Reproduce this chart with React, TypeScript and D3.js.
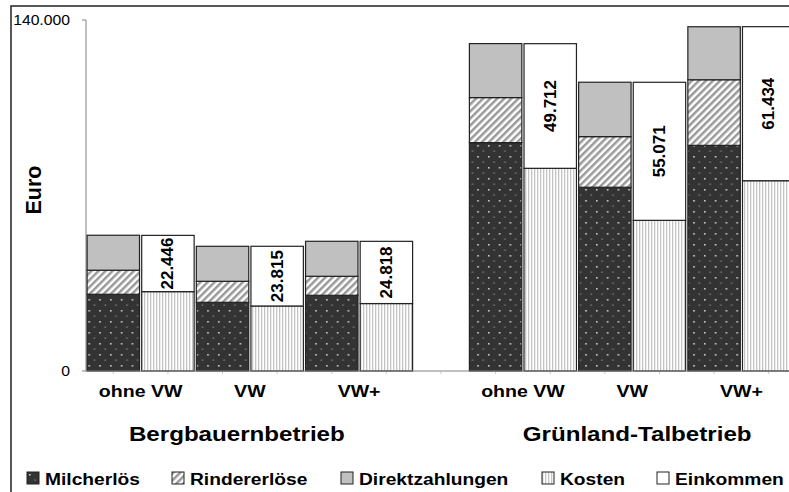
import React from "react";
import * as d3 from "d3";

// values (Euro)
const farms = ["Bergbauernbetrieb", "Grünland-Talbetrieb"];
const categories = ["ohne VW", "VW", "VW+"];
const milcherloes = [30600, 27400, 30200, 91100, 73300, 90000];
const rindererloese = [9600, 8380, 7580, 17950, 20180, 26170];
const direktzahlungen = [13950, 13960, 13960, 21540, 21700, 21140];
const kosten = [31650, 25930, 26900, 80840, 60090, 75900];
const einkommen = [22446, 23815, 24818, 49712, 55071, 61434];
const yTicks = [0, 140000];
const legendItems = ["Milcherlös", "Rindererlöse", "Direktzahlungen", "Kosten", "Einkommen"];

const W = 789;
const H = 492;
const FONT = "'Liberation Sans', Arial, Helvetica, sans-serif";
const SX = 1.15; // the original text is a bit wider than Arial

const fmt = (v: number) => d3.format(",.0f")(v).replace(/,/g, ".");

const App = () => {
  const y = d3.scaleLinear().domain([0, 140000]).range([371, 20]);

  // 13 slots: 6 bars, one empty, 6 bars
  const slots = d3.range(13).map(String);
  const x = d3.scaleBand().domain(slots).range([86, 796]).paddingInner(0.04).paddingOuter(0.02);
  const bw = x.bandwidth();

  const revSlot = (i: number) => String(i < 3 ? i * 2 : i * 2 + 1);
  const costSlot = (i: number) => String(i < 3 ? i * 2 + 1 : i * 2 + 2);

  const fills = ["url(#milch)", "url(#hatch)", "#c0c0c0", "url(#kosten)", "#ffffff"];
  const legendX = [27, 172, 341, 542, 657];
  const farmShift = [-13, 5]; // group titles are not exactly centred in the original

  const catCenter = (i: number) => (x(costSlot(i)) as number) - (x.step() - bw) / 2;

  return (
    <svg width={W} height={H} style={{ position: "absolute", left: 0, top: 0, fontFamily: FONT }}>
      <defs>
        <pattern id="milch" width={10.8} height={11} patternUnits="userSpaceOnUse">
          <rect width={10.8} height={11} fill="#333333" />
          <rect x={2} y={2} width={1.6} height={1.6} fill="#cccccc" />
          <rect x={7.3} y={7.6} width={1.7} height={1} fill="#909090" />
        </pattern>
        <pattern id="hatch" width={5} height={5} patternUnits="userSpaceOnUse" patternTransform="rotate(45)">
          <rect width={5} height={5} fill="#ffffff" />
          <rect width={2.5} height={5} fill="#999999" />
        </pattern>
        <pattern id="kosten" width={3} height={3} patternUnits="userSpaceOnUse">
          <rect width={3} height={3} fill="#ffffff" />
          <rect width={1.3} height={3} fill="#c4c4c4" />
        </pattern>
      </defs>

      <rect width={W} height={H} fill="#ffffff" />
      {/* outer frame, right and bottom edge cut off */}
      <path d={`M11,${H + 2}V6H${W + 2}`} fill="none" stroke="#222" strokeWidth={1.5} />

      {/* y axis */}
      <line x1={86} x2={86} y1={y(140000)} y2={y(0)} stroke="#808080" />
      {yTicks.map((t) => (
        <g key={t}>
          <line x1={82} x2={86} y1={y(t)} y2={y(t)} stroke="#808080" />
          <text
            transform={`translate(70,${y(t)}) scale(1.05,1)`}
            textAnchor="end"
            dominantBaseline="central"
            fontSize={15}
            fill="#000"
          >
            {fmt(t)}
          </text>
        </g>
      ))}
      <text
        transform={`translate(34,190) rotate(-90)`}
        textAnchor="middle"
        dominantBaseline="central"
        fontSize={21.5}
        fontWeight="bold"
      >
        Euro
      </text>

      {/* bars */}
      {einkommen.map((e, i) => {
        const rx = x(revSlot(i)) as number;
        const cx = x(costSlot(i)) as number;
        const rev = [milcherloes[i], rindererloese[i], direktzahlungen[i]];
        const cost = [kosten[i], e];
        let acc = 0;
        const revRects = rev.map((v, k) => {
          const r = (
            <rect key={"r" + k} x={rx} y={y(acc + v)} width={bw} height={y(acc) - y(acc + v)} fill={fills[k]} stroke="#222" strokeWidth={1.2} />
          );
          acc += v;
          return r;
        });
        acc = 0;
        const costRects = cost.map((v, k) => {
          const r = (
            <rect key={"c" + k} x={cx} y={y(acc + v)} width={bw} height={y(acc) - y(acc + v)} fill={fills[k + 3]} stroke="#222" strokeWidth={1.2} />
          );
          acc += v;
          return r;
        });
        const ly = (y(kosten[i]) + y(kosten[i] + e)) / 2;
        return (
          <g key={i}>
            {revRects}
            {costRects}
            <text
              transform={`translate(${cx + bw / 2},${ly}) rotate(-90)`}
              textAnchor="middle"
              dominantBaseline="central"
              fontSize={17}
              fontWeight="bold"
            >
              {d3.format(".3f")(e / 1000)}
            </text>
          </g>
        );
      })}

      {/* x baseline */}
      <line x1={86} x2={W} y1={y(0)} y2={y(0)} stroke="#808080" />
      {slots.map((s) => (
        <line key={s} x1={(x(s) as number) + bw / 2} x2={(x(s) as number) + bw / 2} y1={y(0) + 1} y2={y(0) + 3} stroke="#c8c8c8" />
      ))}

      {/* category labels */}
      {einkommen.map((_, i) => (
        <text key={i} transform={`translate(${catCenter(i)},397) scale(${SX},1)`} textAnchor="middle" fontSize={17} fontWeight="bold">
          {categories[i % 3]}
        </text>
      ))}
      {farms.map((f, j) => (
        <text
          key={f}
          transform={`translate(${catCenter(j * 3 + 1) + farmShift[j]},441) scale(${SX},1)`}
          textAnchor="middle"
          fontSize={21}
          fontWeight="bold"
        >
          {f}
        </text>
      ))}

      {/* legend */}
      {legendItems.map((name, k) => (
        <g key={name} transform={`translate(${legendX[k]},472)`}>
          <rect width={12} height={12} fill={fills[k]} stroke="#222" strokeWidth={1} />
          <text transform={`translate(18,12.5) scale(1.13,1)`} fontSize={17} fontWeight="bold">
            {name}
          </text>
        </g>
      ))}
    </svg>
  );
};

export default App;
